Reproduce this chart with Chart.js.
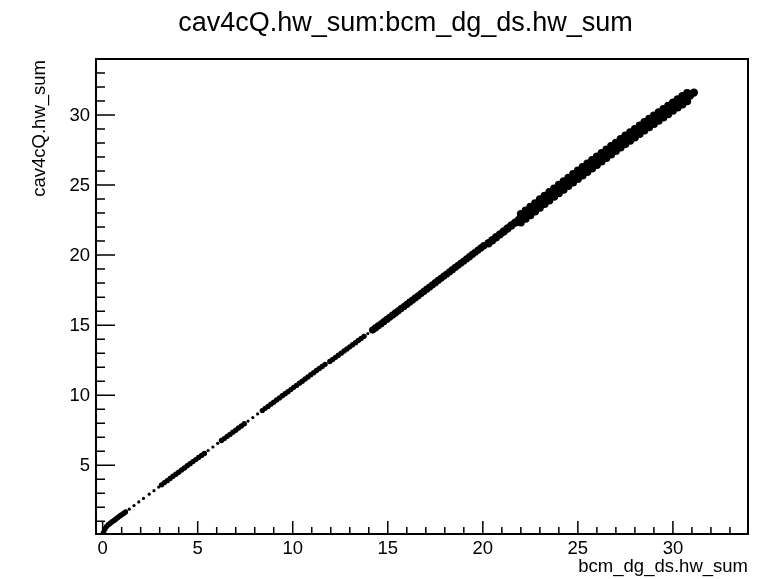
<!DOCTYPE html>
<html>
<head>
<meta charset="utf-8">
<title>cav4cQ.hw_sum:bcm_dg_ds.hw_sum</title>
<script src="https://cdn.jsdelivr.net/npm/chart.js@4/dist/chart.umd.min.js"></script>
<style>
  html, body { margin: 0; padding: 0; background: #fff; }
  #plot { display: block; }
</style>
</head>
<body>
<canvas id="plot" width="758" height="579"></canvas>
<script>
// ---- data ----
const chartTitle = 'cav4cQ.hw_sum:bcm_dg_ds.hw_sum';
const xTitle = 'bcm_dg_ds.hw_sum';
const yTitle = 'cav4cQ.hw_sum';

const xRange = [-0.35, 33.95];
const yRange = [0.09, 34.0];
const xTickLabels = [0, 5, 10, 15, 20, 25, 30];
const yTickLabels = [5, 10, 15, 20, 25, 30];

// isolated single entries between the dense clumps
const sparseX = [1.4, 1.65, 1.9, 2.15, 2.45, 2.7, 2.95, 5.55, 5.8, 6.05, 7.65, 7.9, 8.15, 13.95, 31.18];
const sparseY = [1.86, 2.12, 2.38, 2.63, 2.93, 3.18, 3.44, 6.05, 6.3, 6.56, 8.15, 8.4, 8.66, 14.4, 31.75];

// narrow clumps, low currents
const coreX = [
  0, 0.05, 0.12, 0.2, 0.3, 0.4, 0.5, 0.6, 0.7, 0.8, 0.9, 1.0, 1.1, 1.2,
  3.1, 3.25, 3.4, 3.55, 3.7, 3.85, 4.0, 4.15, 4.3, 4.45, 4.6, 4.75, 4.9, 5.05, 5.2, 5.35,
  6.25, 6.4, 6.55, 6.7, 6.85, 7.0, 7.15, 7.3, 7.45,
  8.4, 8.55, 8.7, 8.85, 9.0, 9.15, 9.3, 9.45, 9.6, 9.75, 9.9, 10.05, 10.2, 10.35, 10.5,
  10.65, 10.8, 10.95, 11.1, 11.25, 11.4, 11.55, 11.7,
  11.95, 12.1, 12.25, 12.4, 12.55, 12.7, 12.85, 13.0, 13.15, 13.3, 13.45, 13.6, 13.75
];
const coreY = [
  0.05, 0.2, 0.45, 0.62, 0.75, 0.86, 0.96, 1.06, 1.16, 1.27, 1.37, 1.47, 1.56, 1.66,
  3.6, 3.76, 3.9, 4.05, 4.21, 4.36, 4.5, 4.66, 4.8, 4.96, 5.1, 5.26, 5.4, 5.55, 5.7, 5.84,
  6.76, 6.9, 7.06, 7.2, 7.36, 7.5, 7.66, 7.8, 7.96,
  8.9, 9.06, 9.2, 9.36, 9.5, 9.66, 9.8, 9.96, 10.1, 10.25, 10.4, 10.56, 10.7, 10.86, 11.0,
  11.16, 11.3, 11.46, 11.6, 11.76, 11.9, 12.05, 12.2,
  12.4, 12.55, 12.7, 12.85, 13.0, 13.15, 13.3, 13.45, 13.6, 13.75, 13.9, 14.05, 14.2
];

// medium clumps 14 - 20
const midX = [
  14.2, 14.35, 14.5, 14.65, 14.8, 14.95, 15.1, 15.25, 15.4, 15.55, 15.7, 15.85, 16.0, 16.15,
  16.3, 16.45, 16.6, 16.75, 16.9, 17.05, 17.2, 17.35, 17.5, 17.65, 17.8, 17.95, 18.1, 18.25,
  18.4, 18.55, 18.7, 18.85, 19.0, 19.15, 19.3, 19.45, 19.6, 19.75, 19.9, 20.05
];
const midY = [
  14.65, 14.8, 14.95, 15.1, 15.26, 15.41, 15.56, 15.72, 15.87, 16.02, 16.18, 16.33, 16.48, 16.64,
  16.79, 16.95, 17.1, 17.26, 17.41, 17.57, 17.72, 17.88, 18.03, 18.19, 18.34, 18.5, 18.65, 18.81,
  18.96, 19.12, 19.27, 19.43, 19.58, 19.74, 19.89, 20.05, 20.2, 20.36, 20.51, 20.67
];

// wide band 20 - 31, centre of the band
const bandX = [
  20.3, 20.5, 20.7, 20.9, 21.1, 21.3, 21.5, 21.7, 21.9, 22.1, 22.3, 22.5, 22.7, 22.9, 23.1,
  23.3, 23.5, 23.7, 23.9, 24.1, 24.3, 24.5, 24.7, 24.9, 25.1, 25.3, 25.5, 25.7, 25.9, 26.1,
  26.3, 26.5, 26.7, 26.9, 27.1, 27.3, 27.5, 27.7, 27.9, 28.1, 28.3, 28.5, 28.7, 28.9, 29.1,
  29.3, 29.5, 29.7, 29.9, 30.1, 30.3, 30.5, 30.7, 30.9, 31.1
];
const bandY = [
  20.85, 21.06, 21.27, 21.48, 21.69, 21.9, 22.11, 22.32, 22.53, 22.74, 22.95, 23.16, 23.37, 23.58, 23.79,
  24.0, 24.21, 24.41, 24.62, 24.82, 25.03, 25.23, 25.44, 25.64, 25.84, 26.04, 26.24, 26.44, 26.64, 26.84,
  27.04, 27.24, 27.43, 27.63, 27.83, 28.03, 28.22, 28.42, 28.61, 28.8, 29.0, 29.2, 29.4, 29.55, 29.75,
  29.95, 30.1, 30.3, 30.5, 30.7, 30.9, 31.05, 31.25, 31.4, 31.6
];

// wide band, upper and lower edges
const edgeX = [
  22.0, 22.25, 22.5, 22.75, 23.0, 23.25, 23.5, 23.75, 24.0, 24.25, 24.5, 24.75, 25.0, 25.25,
  25.5, 25.75, 26.0, 26.25, 26.5, 26.75, 27.0, 27.25, 27.5, 27.75, 28.0, 28.25, 28.5, 28.75,
  29.0, 29.25, 29.5, 29.75, 30.0, 30.25, 30.5, 30.75
];
const upperY = [
  22.93, 23.19, 23.45, 23.71, 23.98, 24.24, 24.5, 24.76, 25.02, 25.27, 25.53, 25.79, 26.04, 26.29,
  26.54, 26.79, 27.04, 27.29, 27.54, 27.79, 28.03, 28.28, 28.53, 28.77, 29.0, 29.25, 29.5, 29.73,
  29.96, 30.2, 30.43, 30.66, 30.9, 31.13, 31.35, 31.58
];
const lowerY = [
  22.33, 22.59, 22.85, 23.11, 23.38, 23.64, 23.9, 24.16, 24.42, 24.67, 24.93, 25.19, 25.44, 25.69,
  25.94, 26.19, 26.44, 26.69, 26.94, 27.19, 27.43, 27.68, 27.93, 28.17, 28.4, 28.65, 28.9, 29.13,
  29.36, 29.6, 29.83, 30.06, 30.3, 30.53, 30.75, 30.98
];

const FONT = '"Liberation Sans", Arial, Helvetica, sans-serif';

function toPoints(xs, ys) {
  return xs.map((x, i) => ({ x, y: ys[i] }));
}

function markerSet(label, xs, ys, radius) {
  return {
    label,
    data: toPoints(xs, ys),
    pointRadius: radius,
    pointHoverRadius: radius,
    pointBackgroundColor: '#000',
    pointBorderWidth: 0,
    showLine: false
  };
}

// ROOT-like frame: ticks drawn inside, labels and titles outside
const rootFrame = {
  id: 'rootFrame',
  afterDraw(chart) {
    const { ctx, chartArea: a } = chart;
    const xs = chart.scales.x;
    const ys = chart.scales.y;
    ctx.save();
    ctx.strokeStyle = '#000';
    ctx.fillStyle = '#000';

    ctx.lineWidth = 2;
    ctx.strokeRect(a.left, a.top, a.right - a.left, a.bottom - a.top);

    ctx.lineWidth = 1.5;
    ctx.beginPath();
    for (let v = 0; v <= Math.floor(xRange[1]); v++) {
      const px = xs.getPixelForValue(v);
      const len = v % 5 === 0 ? 13 : 7;
      ctx.moveTo(px, a.bottom);
      ctx.lineTo(px, a.bottom - len);
    }
    for (let v = 1; v <= Math.floor(yRange[1]); v++) {
      const py = ys.getPixelForValue(v);
      const len = v % 5 === 0 ? 19 : 9;
      ctx.moveTo(a.left, py);
      ctx.lineTo(a.left + len, py);
    }
    ctx.stroke();

    ctx.font = '18.5px ' + FONT;
    ctx.textAlign = 'center';
    ctx.textBaseline = 'top';
    xTickLabels.forEach(v => ctx.fillText(String(v), xs.getPixelForValue(v), a.bottom + 6));

    ctx.textAlign = 'right';
    ctx.textBaseline = 'middle';
    yTickLabels.forEach(v => ctx.fillText(String(v), a.left - 6, ys.getPixelForValue(v) + 1));

    ctx.textAlign = 'right';
    ctx.textBaseline = 'alphabetic';
    ctx.fillText(xTitle, a.right, a.bottom + 38);

    ctx.save();
    ctx.translate(45, a.top + 1);
    ctx.rotate(-Math.PI / 2);
    ctx.textAlign = 'right';
    ctx.fillText(yTitle, 0, 0);
    ctx.restore();

    ctx.font = '27px ' + FONT;
    ctx.textAlign = 'center';
    ctx.fillText(chartTitle, 405.5, 31);
    ctx.restore();
  }
};

new Chart(document.getElementById('plot'), {
  type: 'scatter',
  data: {
    datasets: [
      markerSet('sparse', sparseX, sparseY, 1.6),
      markerSet('core', coreX, coreY, 2.7),
      markerSet('mid', midX, midY, 3.6),
      markerSet('band', bandX, bandY, 4.2),
      markerSet('upper', edgeX, upperY, 4.0),
      markerSet('lower', edgeX, lowerY, 4.0)
    ]
  },
  options: {
    responsive: false,
    animation: false,
    events: [],
    layout: { padding: { left: 96, top: 59, right: 10, bottom: 45 } },
    plugins: {
      legend: { display: false },
      tooltip: { enabled: false },
      title: { display: false }
    },
    scales: {
      x: { type: 'linear', min: xRange[0], max: xRange[1], display: false },
      y: { type: 'linear', min: yRange[0], max: yRange[1], display: false }
    }
  },
  plugins: [rootFrame]
});
</script>
</body>
</html>
